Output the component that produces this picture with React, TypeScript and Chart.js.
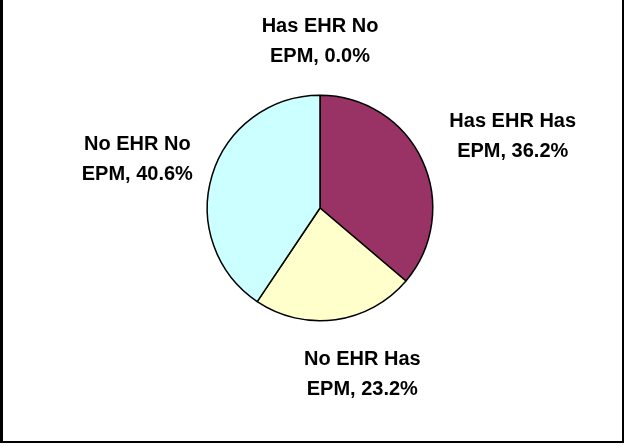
import React, { useEffect, useRef } from "react";
import { Chart, registerables } from "chart.js";

Chart.register(...registerables);

const categories = ["Has EHR No EPM", "Has EHR Has EPM", "No EHR Has EPM", "No EHR No EPM"];
const labelLines = [
  ["Has EHR No", "EPM, 0.0%"],
  ["Has EHR Has", "EPM, 36.2%"],
  ["No EHR Has", "EPM, 23.2%"],
  ["No EHR No", "EPM, 40.6%"],
];
const shares = [0.0, 36.2, 23.2, 40.6];
const colors = ["#FF8080", "#993366", "#FFFFCC", "#CCFFFF"];

const FONT = 'bold 20px "Liberation Sans", Arial, sans-serif';
const LINE_H = 30;
const GAPS = [30, 30, 30, 17];
// manual label nudges (like Excel's moved labels), in px
const NUDGE_X = [0, 7, 19, -3];
const NUDGE_Y = [2, 14, -1, 6];

const labelPlugin = {
  id: "outsideLabels",
  afterDatasetsDraw(chart: any) {
    const ctx = chart.ctx;
    const meta = chart.getDatasetMeta(0);
    ctx.save();
    ctx.font = FONT;
    ctx.fillStyle = "#000";
    ctx.textAlign = "center";
    ctx.textBaseline = "middle";
    meta.data.forEach((arc: any, i: number) => {
      const { x, y, startAngle, endAngle, outerRadius } = arc.getProps(
        ["x", "y", "startAngle", "endAngle", "outerRadius"],
        true
      );
      const mid = (startAngle + endAngle) / 2;
      const c = Math.cos(mid);
      const s = Math.sin(mid);
      const lines = labelLines[i];
      const w = Math.max(...lines.map((l) => ctx.measureText(l).width));
      const halfW = w / 2;
      const halfH = (lines.length * LINE_H) / 2 - 4;
      const gap = GAPS[i];
      const ax = x + (outerRadius + gap) * c;
      const ay = y + (outerRadius + gap) * s;
      const dW = Math.abs(c) > 1e-6 ? halfW / Math.abs(c) : Infinity;
      const dH = Math.abs(s) > 1e-6 ? halfH / Math.abs(s) : Infinity;
      const d = Math.min(dW, dH);
      const cx = ax + d * c + NUDGE_X[i];
      const cy = ay + d * s + NUDGE_Y[i];
      lines.forEach((l, k) => {
        ctx.fillText(l, cx, cy + (k - (lines.length - 1) / 2) * LINE_H);
      });
    });
    ctx.restore();
  },
};

export default function App() {
  const ref = useRef<HTMLCanvasElement | null>(null);
  useEffect(() => {
    if (!ref.current) return;
    const chart = new Chart(ref.current, {
      type: "pie",
      data: {
        labels: categories,
        datasets: [
          {
            data: shares,
            backgroundColor: colors,
            borderColor: "#000",
            borderWidth: 1.5,
          },
        ],
      },
      options: {
        animation: false,
        responsive: false,
        layout: { padding: { left: 206.5, right: 194.5, top: 94.5, bottom: 125.5 } },
        plugins: {
          legend: { display: false },
          tooltip: { enabled: false },
        },
      },
      plugins: [labelPlugin],
    });
    return () => chart.destroy();
  }, []);
  return (
    <div style={{ position: "absolute", left: 0, top: 0, width: 628, height: 447, background: "#fff", overflow: "hidden" }}>
      <canvas ref={ref} width={628} height={447} style={{ display: "block" }} />
      <div
        style={{
          position: "absolute",
          left: 0,
          top: -5,
          width: 624,
          height: 448,
          boxSizing: "border-box",
          border: "2px solid #000",
          borderLeftWidth: 3,
        }}
      />
    </div>
  );
}
